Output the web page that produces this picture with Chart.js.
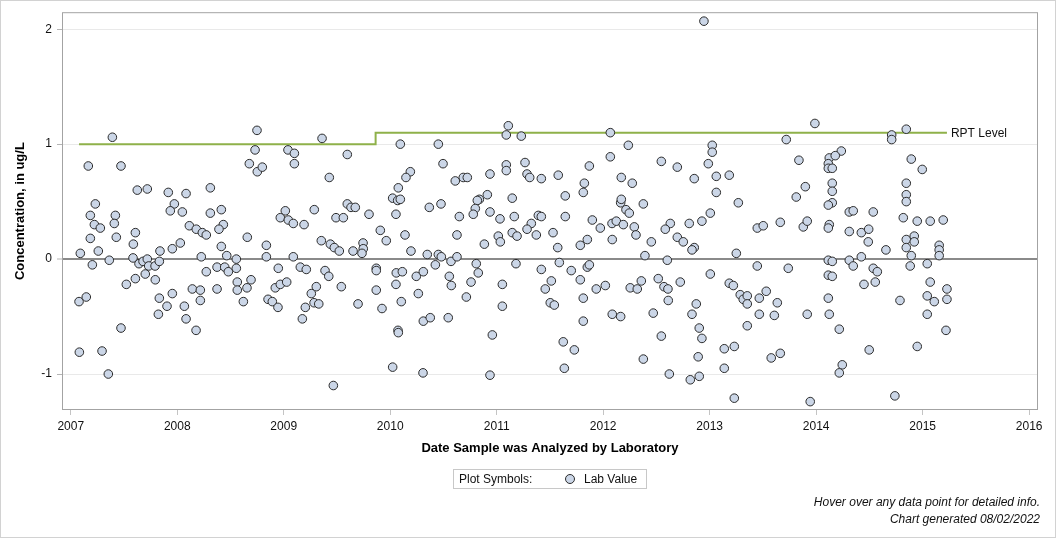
<!DOCTYPE html>
<html>
<head>
<meta charset="utf-8">
<title>Lab Value concentrations</title>
<script src="https://cdn.jsdelivr.net/npm/chart.js@4.4.1/dist/chart.umd.min.js"></script>
<style>
  html, body { margin: 0; padding: 0; background: #fff; }
  #wrap { position: relative; width: 1056px; height: 538px; font-family: "Liberation Sans", Arial, sans-serif; color: #111; }
  #chart { position: absolute; left: 0; top: 0; }
  #frame { position: absolute; left: 0; top: 0; width: 1056px; height: 538px; box-sizing: border-box; border: 1px solid #d2d2d2; pointer-events: none; }
  #legend { position: absolute; left: 453px; top: 469px; width: 194px; height: 20px; box-sizing: border-box; border: 1px solid #c8c8c8; font-size: 12px; line-height: 18px; }
  #legend span { position: absolute; top: 0; white-space: nowrap; }
  #legend .dot { top: 4px; width: 8px; height: 8px; border-radius: 50%; background: #cbd6e7; border: 1px solid #2b2b2b; }
  #notes { position: absolute; right: 16px; top: 494px; text-align: right; font-size: 12px; font-style: italic; line-height: 16.5px; }
</style>
</head>
<body>
<div id="wrap">
  <canvas id="chart" width="1056" height="538"></canvas>
  <div id="legend">
    <span style="left:5px">Plot Symbols:</span>
    <span class="dot" style="left:111px"></span>
    <span style="left:130px">Lab Value</span>
  </div>
  <div id="notes">Hover over any data point for detailed info.<br>Chart generated 08/02/2022</div>
  <div id="frame"></div>
</div>
<script>
// sample dates as decimal years
const sampleDates = [
  2007.391,2007.165,2007.472,2007.625,2007.719,2007.916,2008.083,2008.311,2007.231,2007.973,
  2007.935,2008.048,2008.414,2008.311,2007.184,2007.419,2007.222,2007.278,2007.409,2008.433,
  2008.392,2008.114,2008.179,2008.236,2008.273,2007.607,2007.184,2007.428,2007.588,2008.029,
  2007.954,2008.414,2007.090,2007.259,2007.838,2008.226,2008.465,2007.362,2007.585,2007.203,
  2007.641,2007.679,2007.719,2007.732,2007.792,2007.832,2008.273,2008.374,2008.446,2008.480,
  2007.522,2007.607,2007.700,2007.794,2007.078,2007.146,2007.832,2007.954,2008.142,2008.217,
  2008.374,2008.217,2007.904,2008.067,2007.823,2008.083,2007.472,2008.177,2007.081,2007.294,
  2007.353,
  2008.749,2009.360,2008.731,2009.040,2009.100,2009.597,2008.677,2008.752,2008.799,2009.100,
  2009.428,2009.597,2009.632,2009.672,2009.801,2009.015,2008.968,2009.043,2009.090,2009.191,
  2009.287,2009.491,2009.560,2009.907,2009.963,2008.658,2008.837,2009.353,2009.438,2009.475,
  2009.522,2009.651,2009.745,2009.747,2009.735,2008.555,2008.837,2009.090,2008.555,2008.949,
  2009.156,2009.212,2009.388,2009.423,2009.869,2009.869,2008.564,2008.693,2008.564,2008.655,
  2008.621,2008.921,2008.968,2009.028,2008.853,2008.893,2008.946,2009.306,2009.259,2009.285,
  2009.329,2009.203,2009.175,2009.541,2009.698,2009.869,2009.923,2009.466,
  2011.109,2011.090,2011.231,2010.095,2010.452,2010.496,2011.090,2011.090,2011.266,2011.285,
  2011.310,2011.419,2011.578,2010.189,2010.148,2010.076,2010.023,2010.070,2010.095,2010.054,
  2010.611,2010.686,2010.724,2010.937,2010.912,2010.837,2010.818,2010.799,2010.780,2010.649,
  2010.477,2010.367,2010.937,2011.031,2011.146,2011.165,2011.391,2011.419,2011.325,2011.285,
  2011.372,2011.146,2011.191,2011.015,2011.034,2010.884,2010.627,2011.529,2011.573,2010.139,
  2010.195,2010.348,2010.452,2010.480,2010.424,2010.571,2010.627,2010.808,2010.827,2011.181,
  2011.419,2011.588,2010.057,2010.114,2010.245,2010.311,2010.555,2010.574,2010.054,2010.264,
  2010.104,2010.759,2010.715,2011.053,2011.053,2011.513,2011.456,2011.503,2011.541,2010.311,
  2010.376,2010.545,2010.073,2010.076,2010.959,2010.023,2010.308,2010.937,
  2012.067,2012.236,2013.024,2013.024,2012.067,2011.870,2011.823,2011.813,2011.644,2012.170,
  2012.273,2012.546,2012.696,2012.855,2012.987,2013.062,2013.062,2012.164,2012.170,2012.214,
  2012.245,2012.377,2011.644,2011.898,2011.973,2012.083,2012.123,2012.189,2012.292,2012.308,
  2012.085,2011.851,2011.785,2012.452,2012.630,2012.583,2012.808,2012.927,2013.006,2012.696,
  2012.752,2012.855,2012.834,2012.392,2012.602,2011.700,2011.785,2011.851,2011.870,2011.935,
  2012.020,2012.254,2012.320,2012.358,2012.517,2012.571,2012.608,2012.611,2012.724,2013.006,
  2011.813,2012.085,2012.164,2012.470,2012.874,2012.834,2011.813,2012.902,2012.927,2012.546,
  2011.625,2011.729,2012.377,2012.892,2011.635,2012.621,2012.818,2012.902,2012.946,
  2013.988,2013.719,2014.236,2014.123,2014.179,2014.114,2014.114,2014.151,2013.838,2013.184,
  2014.151,2014.151,2014.151,2014.114,2013.898,2013.813,2013.269,2014.311,2014.348,2014.536,
  2013.447,2013.503,2013.663,2013.879,2013.916,2014.123,2014.114,2014.311,2014.424,2014.493,
  2014.489,2014.655,2013.250,2013.447,2013.738,2014.114,2014.151,2014.311,2014.424,2014.348,
  2014.114,2014.151,2014.536,2014.574,2014.449,2014.555,2013.184,2013.222,2013.287,2013.315,
  2013.353,2013.353,2013.466,2013.531,2013.635,2013.466,2013.607,2013.916,2014.114,2014.123,
  2013.353,2014.217,2013.137,2013.231,2013.578,2013.663,2014.498,2013.137,2014.245,2014.217,
  2013.231,2013.944,
  2014.846,2014.709,2014.709,2014.893,2014.996,2014.846,2014.846,2014.846,2014.818,2014.949,
  2015.071,2015.193,2014.846,2014.846,2014.921,2014.921,2015.155,2015.155,2015.155,2014.893,
  2014.883,2015.043,2015.071,2015.228,2015.228,2015.043,2015.109,2014.787,2015.043,2015.219,
  2014.949,2014.739
];

// concentration, ug/L (same order as sampleDates)
const labValues = [
  1.06,0.81,0.81,0.60,0.61,0.58,0.57,0.62,0.48,0.48,
  0.42,0.41,0.43,0.40,0.38,0.38,0.30,0.27,0.31,0.30,
  0.26,0.29,0.26,0.23,0.21,0.23,0.18,0.19,0.13,0.14,
  0.09,0.11,0.05,0.07,0.07,0.02,0.03,-0.01,0.01,-0.05,
  -0.04,-0.02,0.00,-0.06,-0.06,-0.02,-0.11,-0.07,-0.07,-0.11,
  -0.22,-0.17,-0.13,-0.18,-0.37,-0.33,-0.34,-0.30,-0.26,-0.27,
  -0.26,-0.36,-0.41,-0.41,-0.48,-0.52,-0.60,-0.62,-0.81,-0.80,
  -1.00,
  1.12,1.05,0.95,0.95,0.92,0.91,0.83,0.76,0.80,0.83,
  0.71,0.48,0.45,0.45,0.39,0.42,0.36,0.34,0.31,0.30,
  0.43,0.36,0.36,0.25,0.16,0.19,0.12,0.16,0.13,0.10,
  0.07,0.07,0.14,0.09,0.05,0.00,0.02,0.02,-0.08,-0.08,
  -0.07,-0.09,-0.10,-0.15,-0.08,-0.10,-0.20,-0.18,-0.27,-0.25,
  -0.37,-0.25,-0.22,-0.20,-0.35,-0.37,-0.42,-0.24,-0.30,-0.38,
  -0.39,-0.42,-0.52,-0.24,-0.39,-0.27,-0.43,-1.10,
  1.16,1.08,1.07,1.00,1.00,0.83,0.82,0.77,0.84,0.74,
  0.71,0.70,0.73,0.76,0.71,0.62,0.53,0.51,0.52,0.39,
  0.68,0.71,0.71,0.74,0.56,0.52,0.51,0.44,0.39,0.37,
  0.48,0.45,0.41,0.35,0.53,0.37,0.38,0.37,0.31,0.26,
  0.21,0.23,0.20,0.20,0.15,0.13,0.21,0.23,0.10,0.21,
  0.07,0.04,0.04,0.02,-0.05,-0.02,0.02,-0.04,-0.12,-0.04,
  -0.09,-0.03,-0.12,-0.11,-0.15,-0.11,-0.15,-0.23,-0.22,-0.30,
  -0.37,-0.20,-0.33,-0.22,-0.41,-0.19,-0.26,-0.38,-0.40,-0.54,
  -0.51,-0.51,-0.62,-0.64,-0.66,-0.94,-0.99,-1.01,
  1.10,0.99,0.99,0.93,0.89,0.81,0.66,0.58,0.55,0.71,
  0.66,0.85,0.80,0.70,0.83,0.72,0.58,0.49,0.52,0.43,
  0.40,0.48,0.37,0.34,0.27,0.31,0.33,0.30,0.28,0.21,
  0.17,0.17,0.12,0.15,0.31,0.26,0.31,0.33,0.40,0.19,
  0.15,0.10,0.08,0.03,-0.01,-0.10,-0.18,-0.07,-0.05,-0.26,
  -0.23,-0.25,-0.26,-0.19,-0.17,-0.24,-0.26,-0.36,-0.20,-0.13,
  -0.34,-0.48,-0.50,-0.47,-0.39,-0.48,-0.54,-0.60,-0.69,-0.67,
  -0.72,-0.79,-0.87,-0.85,-0.95,-1.00,-1.05,-1.02,2.07,
  1.18,1.04,0.94,0.88,0.90,0.83,0.79,0.79,0.86,0.73,
  0.66,0.59,0.49,0.47,0.63,0.54,0.49,0.41,0.42,0.41,
  0.27,0.29,0.32,0.28,0.33,0.30,0.27,0.24,0.23,0.26,
  0.15,0.08,0.05,-0.06,-0.08,-0.01,-0.02,-0.01,0.02,-0.06,
  -0.14,-0.15,-0.08,-0.11,-0.22,-0.20,-0.21,-0.23,-0.31,-0.35,
  -0.32,-0.39,-0.34,-0.28,-0.38,-0.48,-0.49,-0.48,-0.34,-0.48,
  -0.58,-0.61,-0.78,-0.76,-0.86,-0.82,-0.79,-0.95,-0.92,-0.99,
  -1.21,-1.24,
  1.13,1.08,1.04,0.87,0.78,0.66,0.56,0.50,0.36,0.33,
  0.33,0.34,0.17,0.10,0.20,0.15,0.12,0.08,0.03,0.03,
  -0.06,-0.04,-0.20,-0.26,-0.35,-0.32,-0.37,-0.36,-0.48,-0.62,
  -0.76,-1.19
];

// reporting level (step)
const rptYears = [2007.078, 2009.863, 2009.863, 2015.228];
const rptLevels = [1.0, 1.0, 1.1, 1.1];

const yearTicks = [2007, 2008, 2009, 2010, 2011, 2012, 2013, 2014, 2015, 2016];
const valueTicks = [-1, 0, 1, 2];

Chart.defaults.font.family = '"Liberation Sans", Arial, sans-serif';
Chart.defaults.color = '#111';

const framePlugin = {
    id: 'frame',
    beforeDatasetsDraw(chart) {
        const {ctx, chartArea: a} = chart;
        ctx.save();
        ctx.strokeStyle = '#a3a3a3';
        ctx.lineWidth = 1;
        ctx.strokeRect(a.left + 0.5, a.top + 0.5, a.right - a.left - 1, a.bottom - a.top - 1);
        ctx.restore();
    },
    afterDatasetsDraw(chart) {
        const {ctx, scales} = chart;
        const n = rptYears.length - 1;
        const x = scales.x.getPixelForValue(rptYears[n]) + 4;
        const y = scales.y.getPixelForValue(rptLevels[n]);
        ctx.save();
        ctx.font = '12px "Liberation Sans", Arial, sans-serif';
        ctx.fillStyle = '#111';
        ctx.textBaseline = 'middle';
        ctx.fillText('RPT Level', x, y + 1);
        ctx.restore();
    }
};

const ctx = document.getElementById('chart').getContext('2d');
const chart = new Chart(ctx, {
    type: 'scatter',
    data: {
        datasets: [{
            label: 'Lab Value',
            data: sampleDates.map((d, i) => ({x: d, y: labValues[i]})),
            pointRadius: 4.3,
            pointHoverRadius: 5,
            pointBackgroundColor: '#cbd6e7',
            pointBorderColor: '#2b2b2b',
            pointBorderWidth: 1
        }, {
            type: 'line',
            label: 'RPT Level',
            data: rptYears.map((d, i) => ({x: d, y: rptLevels[i]})),
            borderColor: '#8fb14a',
            borderWidth: 2,
            pointRadius: 0,
            fill: false
        }]
    },
    options: {
        responsive: false,
        animation: false,
        devicePixelRatio: 1,
        layout: { padding: {left: 0, top: 12, right: 18, bottom: 0} },
        plugins: {
            legend: { display: false },
            tooltip: { enabled: true }
        },
        scales: {
            x: {
                type: 'linear',
                min: 2006.918,
                max: 2016.083,
                afterBuildTicks: s => { s.ticks = yearTicks.map(v => ({value: v})); },
                afterFit: s => { s.height = 128; },
                ticks: {
                    callback: v => String(v),
                    font: {size: 12},
                    color: '#111',
                    padding: 4,
                    maxRotation: 0,
                    autoSkip: false
                },
                grid: {
                    drawOnChartArea: false,
                    drawTicks: true,
                    tickLength: 5,
                    tickColor: '#c4c4c4'
                },
                border: { display: false },
                title: {
                    display: true,
                    text: 'Date Sample was Analyzed by Laboratory',
                    font: {size: 13, weight: 'bold'},
                    color: '#000',
                    padding: {top: 0, bottom: 82}
                }
            },
            y: {
                min: -1.313,
                max: 2.148,
                afterBuildTicks: s => { s.ticks = valueTicks.map(v => ({value: v})); },
                afterFit: s => { s.width = 62; },
                ticks: {
                    callback: v => String(v),
                    font: {size: 12},
                    color: '#111',
                    padding: 5
                },
                grid: {
                    color: c => (c.tick && c.tick.value === 0) ? '#8a8a8a' : '#e9e9e9',
                    lineWidth: c => (c.tick && c.tick.value === 0) ? 2 : 1,
                    tickLength: 5,
                    tickWidth: 1,
                    tickColor: '#b4b4b4'
                },
                border: { display: false },
                title: {
                    display: true,
                    text: 'Concentration, in ug/L',
                    font: {size: 13, weight: 'bold'},
                    color: '#000',
                    padding: {top: 13, bottom: 0}
                }
            }
        }
    },
    plugins: [framePlugin]
});
</script>
</body>
</html>
